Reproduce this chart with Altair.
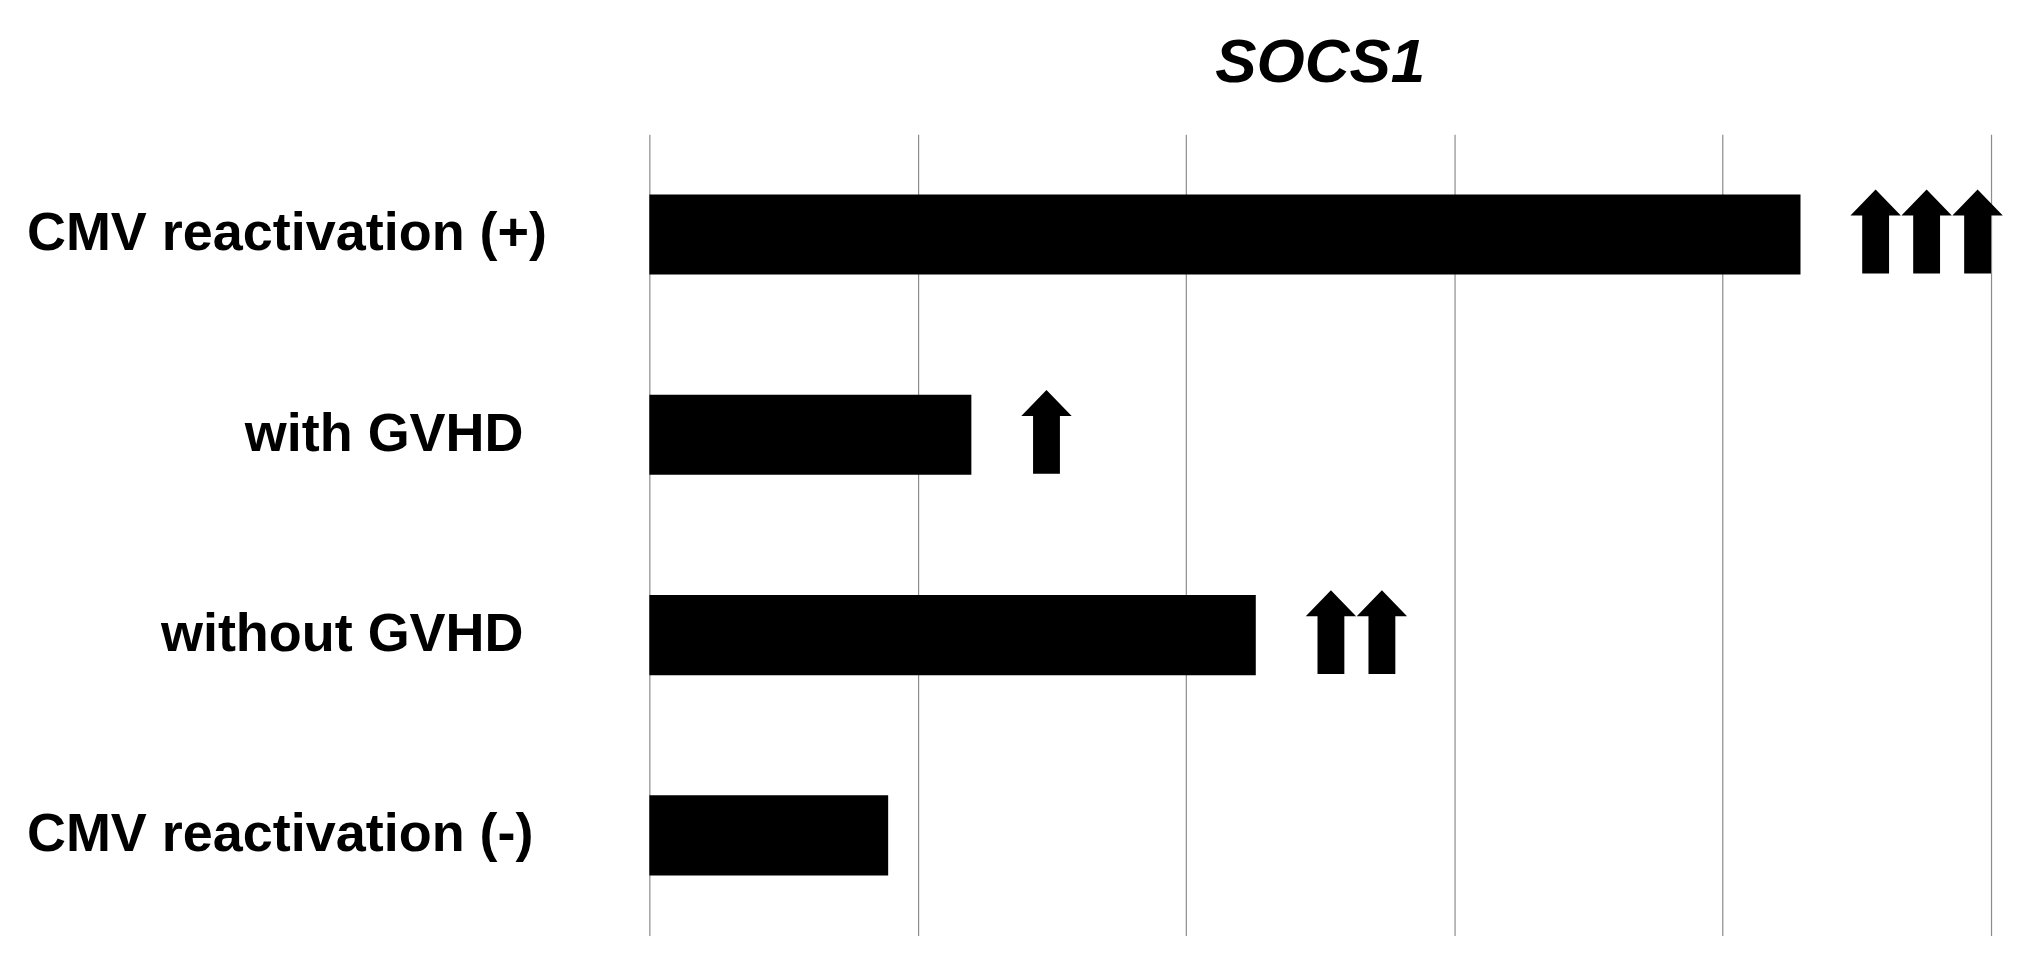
import altair as alt
import pandas as pd

# ---- data ----
categories = ["CMV reactivation (+)", "with GVHD", "without GVHD", "CMV reactivation (-)"]
values = [4.29, 1.20, 2.26, 0.89]
arrow_counts = [3, 1, 2, 0]
label_align = ["left", "right", "right", "left"]
x_ticks = [0, 1, 2, 3, 4, 5]
title_text = "SOCS1"

# ---- styling constants ----
ARROW_GAP = 0.28   # data units between bar end and first arrow centre
ARROW_STEP = 0.19  # data units between consecutive arrows
FONT = "Liberation Sans"
ARROW_PATH = ("M0,-1.07 L0.6,-0.45 L0.32,-0.45 L0.32,0.93 L-0.32,0.93 "
              "L-0.32,-0.45 L-0.6,-0.45 Z")

bars_df = pd.DataFrame({"category": categories, "value": values, "align": label_align})

arrow_rows = []
for c, v, n in zip(categories, values, arrow_counts):
    for i in range(n):
        arrow_rows.append({"category": c, "pos": v + ARROW_GAP + i * ARROW_STEP})
arrows_df = pd.DataFrame(arrow_rows)

title_df = pd.DataFrame({"t": [title_text]})

y_scale = alt.Scale(domain=categories, paddingInner=0.6, paddingOuter=0.3)
x_scale = alt.Scale(domain=[0, 5], nice=False, zero=True)

y_enc = alt.Y("category:N", sort=categories, scale=y_scale, axis=None)

bars = alt.Chart(bars_df).mark_bar(color="black").encode(
    x=alt.X("value:Q", scale=x_scale,
            axis=alt.Axis(values=x_ticks, grid=True, labels=False, ticks=False,
                          domain=False, title=None, gridColor="#8c8c8c",
                          gridWidth=1.2)),
    y=y_enc,
)

arrows = alt.Chart(arrows_df).mark_point(
    shape=ARROW_PATH, size=84 * 84, filled=True, color="black",
    opacity=1, strokeWidth=0
).encode(
    x=alt.X("pos:Q", scale=x_scale),
    y=alt.Y("category:N", sort=categories, scale=y_scale, axis=None),
)

label_style = dict(baseline="middle", font=FONT, fontWeight="bold",
                   fontSize=54, color="black")

labels_left = alt.Chart(bars_df).transform_filter(
    alt.datum.align == "left"
).mark_text(align="left", **label_style).encode(
    y=y_enc, x=alt.value(-623), text="category:N"
)

labels_right = alt.Chart(bars_df).transform_filter(
    alt.datum.align == "right"
).mark_text(align="right", **label_style).encode(
    y=y_enc, x=alt.value(-126), text="category:N"
)

title = alt.Chart(title_df).mark_text(
    align="center", baseline="alphabetic", font=FONT, fontWeight="bold",
    fontStyle="italic", fontSize=62, color="black"
).encode(x=alt.value(671.5), y=alt.value(-52), text="t:N")

chart = alt.layer(bars, arrows, labels_left, labels_right, title).properties(
    width=1343, height=802,
    autosize=alt.AutoSizeParams(type="none"),
    padding={"left": 642, "top": 126, "right": 20, "bottom": 16},
    background="white",
).configure_view(stroke=None)

chart.save("out.html", embed_options={"renderer": "svg", "actions": False})
